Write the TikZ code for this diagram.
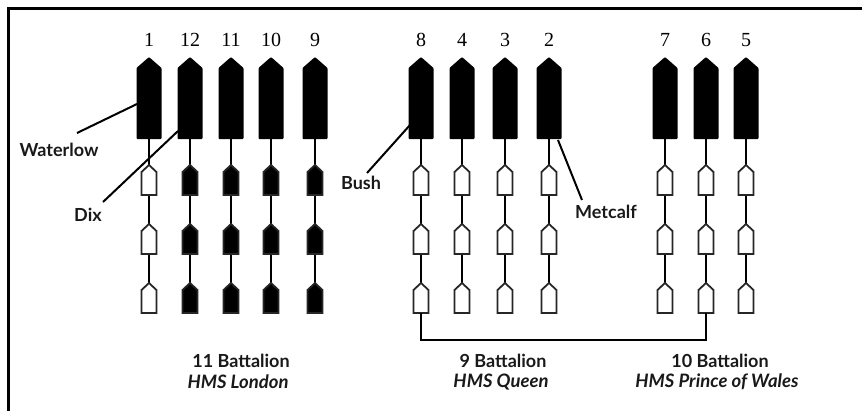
\documentclass[tikz,border=0pt]{standalone}
\usepackage{fontspec}
\setmainfont{Liberation Serif}
\newfontfamily\labfont{Lato}
\usetikzlibrary{backgrounds}
\begin{document}
\begin{tikzpicture}[x=1pt,y=-1pt,
  num/.style={font=\fontsize{20}{20}\selectfont, inner sep=0pt},
  lab/.style={font=\labfont\bfseries\fontsize{18}{18}\selectfont, inner sep=0pt, text=black!90},
  sub/.style={font=\labfont\bfseries\itshape\fontsize{18.5}{18.5}\selectfont, inner sep=0pt, text=black!90},
  stem/.style={line width=2.8pt},
  pointer/.style={line width=2pt},
  frame/.style={line width=3pt},
  pics/bigship/.style={code={
     \fill[rounded corners=0.8pt] (-12.5,0) -- (-12.5,-71) -- (0,-82) -- (12.5,-71) -- (12.5,0) -- cycle;
     \coordinate (-top) at (0,-82); \coordinate (-bot) at (0,0);}},
  pics/smallship/.style={code={
     \filldraw[line width=1.8pt, fill=#1, draw=black!85, line join=miter] (-7.5,0) -- (-7.5,-23) -- (0,-30) -- (7.5,-23) -- (7.5,0) -- cycle;
     \coordinate (-top) at (0,-30); \coordinate (-bot) at (0,0);}}
]
\useasboundingbox (0,0) rectangle (862,410);
\draw[frame] (8.5,412) -- (8.5,8.5) -- (864,8.5);

\foreach \x/\n/\f in {149/1/white,190/12/black,231/11/black,271/10/black,315/9/black,
                      421/8/white,462/4/white,505/3/white,549/2/white,
                      665/7/white,706/6/white,746/5/white}{
  \node[num] (n\n) at (\x,40) {\n};
  \pic (b\n) at (\x,139) {bigship};
  \pic (s\n-1) at (\x,195) {smallship=\f};
  \pic (s\n-2) at (\x,254) {smallship=\f};
  \pic (s\n-3) at (\x,313) {smallship=\f};
  \begin{pgfonlayer}{background}
    \draw[stem] (b\n-bot) -- (s\n-1-top);
    \draw[stem] (s\n-1-bot) -- (s\n-2-top);
    \draw[stem] (s\n-2-bot) -- (s\n-3-top);
  \end{pgfonlayer}
}

% bracket joining 9 and 10 Battalion
\draw[stem] (s8-3-bot) -- ++(0,27) -| (s6-3-bot);

% labels
\node[lab] (waterlow) at (59,150) {Waterlow};
\node[lab] (dix) at (88,215) {Dix};
\node[lab] (bush) at (361,183) {Bush};
\node[lab] (metcalf) at (606,212) {Metcalf};

\coordinate (wl-a) at (77,133);  \coordinate (wl-b) at (137,104);
\coordinate (dx-a) at (103,202); \coordinate (dx-b) at (178,131);
\coordinate (bu-a) at (367,173); \coordinate (bu-b) at (410,125);
\coordinate (mc-a) at (582,200); \coordinate (mc-b) at (558,140);
\draw[pointer] (wl-a) -- (wl-b);
\draw[pointer] (dx-a) -- (dx-b);
\draw[pointer] (bu-a) -- (bu-b);
\draw[pointer] (mc-a) -- (mc-b);

\node[lab] (bat11) at (241,361) {11 Battalion};
\node[sub] (hms11) at (238,382) {HMS London};
\node[lab] (bat9) at (503,361) {9 Battalion};
\node[sub] (hms9) at (501,382) {HMS Queen};
\node[lab] (bat10) at (720,361) {10 Battalion};
\node[sub] (hms10) at (717,382) {HMS Prince of Wales};
\end{tikzpicture}
\end{document}
